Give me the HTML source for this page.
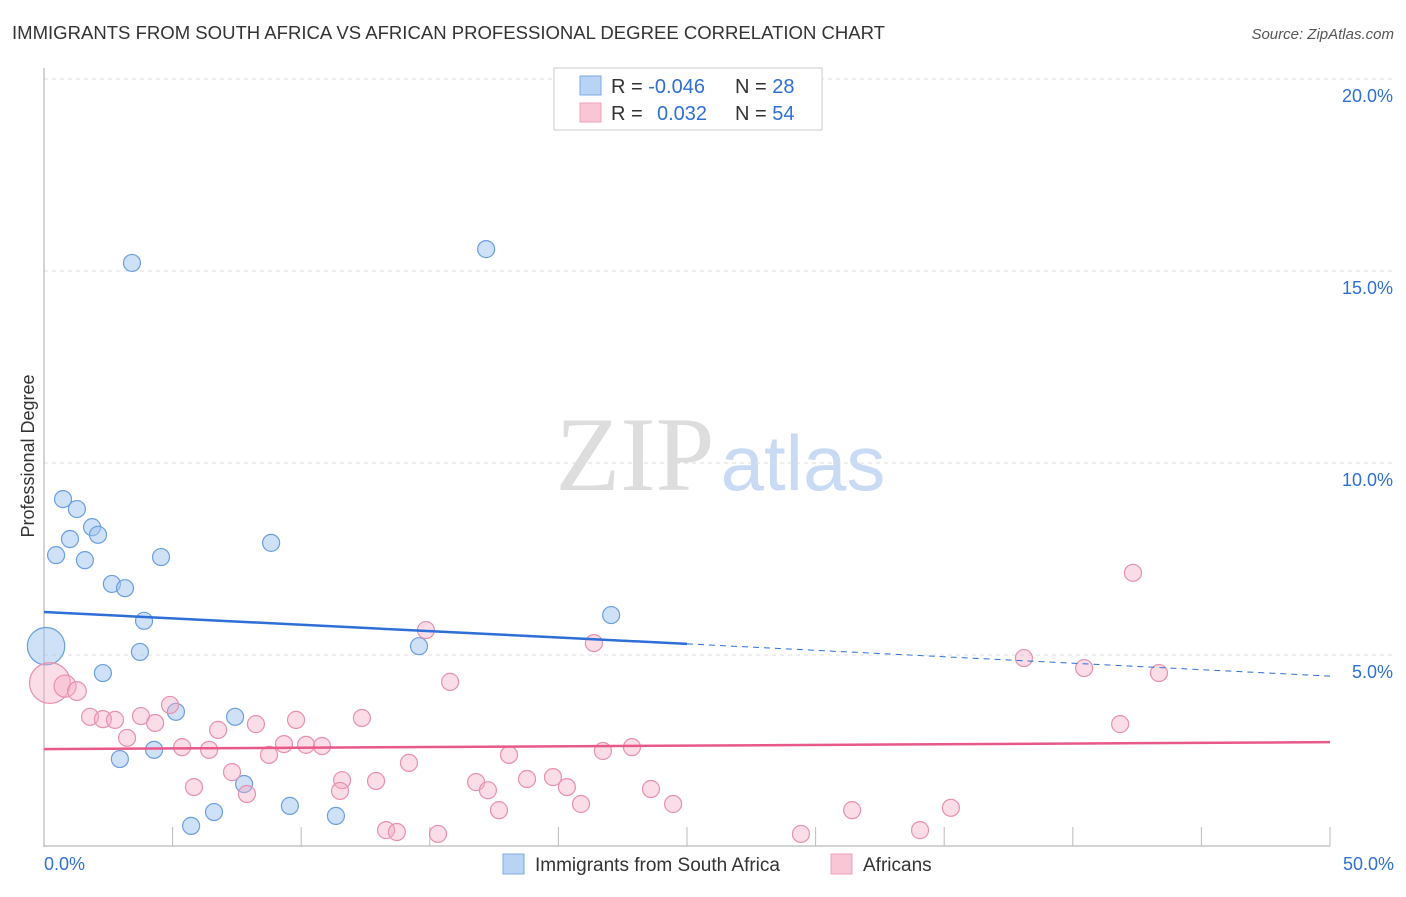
<!DOCTYPE html>
<html><head><meta charset="utf-8"><style>
body{margin:0;background:#fff;font-family:"Liberation Sans",sans-serif;}
</style></head><body>
<svg id="chart" width="1406" height="892" xmlns="http://www.w3.org/2000/svg">
<text x="12" y="39" font-size="18.5" fill="#333" textLength="873" lengthAdjust="spacingAndGlyphs">IMMIGRANTS FROM SOUTH AFRICA VS AFRICAN PROFESSIONAL DEGREE CORRELATION CHART</text>
<text x="1394" y="39" font-size="15" fill="#555" font-style="italic" text-anchor="end">Source: ZipAtlas.com</text>
<text x="34" y="456" font-size="18" fill="#333" text-anchor="middle" transform="rotate(-90 34 456)">Professional Degree</text>
<g><text x="635" y="490" font-size="106" fill="#ddd" font-family="Liberation Serif,serif" text-anchor="middle">ZIP</text><text x="803" y="490" font-size="78" fill="#c9daf5" text-anchor="middle">atlas</text></g>
<g id="grid"></g><g id="marks"></g>
<g>
<rect x="554" y="68" width="268" height="62" fill="#fff" stroke="#ccc"/>
<rect x="580" y="76" width="21" height="19" fill="#b9d3f5" stroke="#7eaae6"/>
<rect x="580" y="103" width="21" height="19" fill="#f9c6d6" stroke="#eea0b9"/>
<text x="611" y="93" font-size="20" fill="#333">R = <tspan fill="#2f6fd6">-0.046</tspan></text>
<text x="735" y="93" font-size="20" fill="#333">N = <tspan fill="#2f6fd6">28</tspan></text>
<text x="611" y="120" font-size="20" fill="#333">R = <tspan fill="#2f6fd6" x="657">0.032</tspan></text>
<text x="735" y="120" font-size="20" fill="#333">N = <tspan fill="#2f6fd6">54</tspan></text>
</g>
<g>
<rect x="503" y="854" width="21" height="20" fill="#b9d3f5" stroke="#7eaae6"/>
<text x="535" y="871" font-size="19" fill="#333">Immigrants from South Africa</text>
<rect x="831" y="854" width="21" height="20" fill="#f9c6d6" stroke="#eea0b9"/>
<text x="863" y="871" font-size="19" fill="#333">Africans</text>
</g>
</svg>
<script>
const yTicks=[5,10,15,20];
const yTickLabels=["5.0%","10.0%","15.0%","20.0%"];
const xTickLabels=["0.0%","50.0%"];
const blueX=[0.74,1.28,1.87,2.10,1.01,0.47,1.59,2.64,3.15,4.55,8.83,3.42,17.19,3.89,3.73,2.29,0.08,5.13,7.43,4.28,2.95,7.78,9.56,6.61,5.72,11.35,14.58,22.05];
const blueY=[9.06,8.80,8.33,8.13,8.02,7.60,7.47,6.85,6.74,7.55,7.92,15.21,15.57,5.89,5.08,4.53,5.23,3.52,3.39,2.53,2.29,1.64,1.07,0.91,0.55,0.81,5.23,6.04];
const blueSize=[1,1,1,1,1,1,1,1,1,1,1,1,1,1,1,1,2.2,1,1,1,1,1,1,1,1,1,1,1];
const pinkX=[0.23,0.82,1.28,1.79,2.29,2.76,3.77,4.32,4.90,3.23,5.37,6.42,6.77,8.24,8.75,9.33,9.80,10.19,10.81,12.36,7.31,5.83,7.89,11.59,11.51,12.91,14.19,14.85,15.79,13.30,13.72,15.32,16.80,17.26,17.69,18.08,18.78,19.79,20.33,20.88,21.73,21.38,22.86,23.60,24.46,29.43,31.42,34.06,35.26,38.10,40.44,42.34,41.84,43.35];
const pinkY=[4.27,4.19,4.06,3.39,3.33,3.31,3.41,3.23,3.70,2.84,2.60,2.53,3.05,3.20,2.40,2.68,3.31,2.66,2.63,3.36,1.95,1.56,1.38,1.74,1.46,1.72,2.19,5.65,4.30,0.44,0.39,0.34,1.69,1.48,0.96,2.40,1.77,1.82,1.56,1.12,2.50,5.31,2.60,1.51,1.12,0.34,0.96,0.44,1.02,4.92,4.66,7.14,3.20,4.53];
const pinkSize=[2.4,1.3,1.1,1,1,1,1,1,1,1,1,1,1,1,1,1,1,1,1,1,1,1,1,1,1,1,1,1,1,1,1,1,1,1,1,1,1,1,1,1,1,1,1,1,1,1,1,1,1,1,1,1,1,1];
const blueTrend=[6.12,5.29,4.45];
const pinkTrend=[2.55,2.73];
const X=v=>44+v*25.72, Y=v=>847-v*38.4;
const NS="http://www.w3.org/2000/svg";
const grid=document.getElementById('grid'), marks=document.getElementById('marks');
function mk(tag,attrs,parent){const e=document.createElementNS(NS,tag);for(const k in attrs)e.setAttribute(k,attrs[k]);parent.appendChild(e);return e;}
yTicks.forEach((t,i)=>{
 const l=mk('line',{x1:44,x2:1394,y1:Y(t),y2:Y(t),stroke:'#ddd','stroke-dasharray':'4,4'},grid);
 
 
 const tx=mk('text',{x:1393,y:Y(t)+23,'font-size':18,fill:'#2f6fd6','text-anchor':'end'},grid);
 tx.textContent=yTickLabels[i];
 
 
});
const ax=mk('line',{x1:44,x2:44,y1:68,y2:847,stroke:'#aaa'},grid);


const bx=mk('line',{x1:44,x2:1330,y1:846,y2:846,stroke:'#aaa'},grid);


for(let v=5;v<=50;v+=5){const t=mk('line',{x1:X(v),x2:X(v),y1:827,y2:846,stroke:'#bbb'},grid);
 
 }
[[0,'start',44],[50,'end',1394]].forEach((d,i)=>{const t=mk('text',{x:d[2],y:870,'font-size':18,fill:'#2f6fd6','text-anchor':d[1]},grid);t.textContent=xTickLabels[i];
 
 });
blueX.forEach((x,i)=>{const c=mk('circle',{cx:X(x),cy:Y(blueY[i]),r:8.5*blueSize[i],fill:'rgba(160,196,240,0.5)',stroke:'#6a9fe0','stroke-width':1.2},marks);
 
 });
pinkX.forEach((x,i)=>{const c=mk('circle',{cx:X(x),cy:Y(pinkY[i]),r:8.5*pinkSize[i],fill:'rgba(245,170,195,0.4)',stroke:'#e890ae','stroke-width':1.2},marks);
 
 });
const b1=mk('line',{x1:X(0),y1:Y(blueTrend[0]),x2:X(25),y2:Y(blueTrend[1]),stroke:'#2d6fd6','stroke-width':2.5},marks);


const b2=mk('line',{x1:X(25),y1:Y(blueTrend[1]),x2:X(50),y2:Y(blueTrend[2]),stroke:'#2d6fd6','stroke-width':1,'stroke-dasharray':'6,5'},marks);


const p1=mk('line',{x1:X(0),y1:Y(pinkTrend[0]),x2:X(50),y2:Y(pinkTrend[1]),stroke:'#e8588a','stroke-width':2.5},marks);


</script>
</body></html>
